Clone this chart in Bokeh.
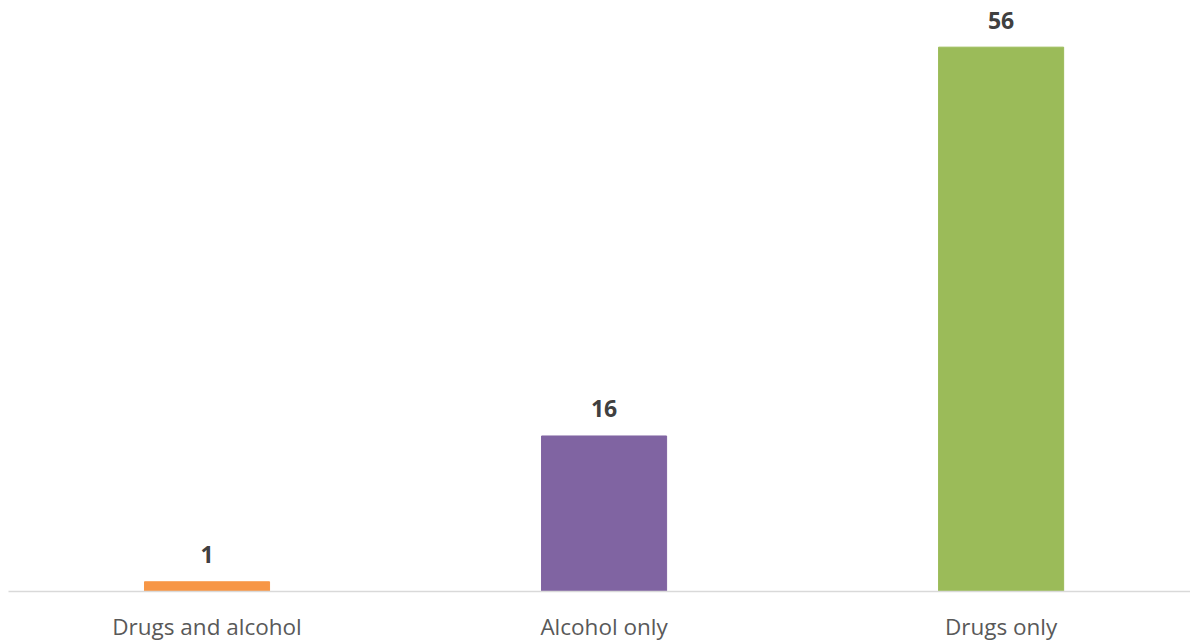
from bokeh.plotting import figure
from bokeh.models import Range1d, FixedTicker, ColumnDataSource
from bokeh.core.properties import value
from bokeh.embed import file_html
from bokeh.resources import INLINE

categories = ["Drugs and alcohol", "Alcohol only", "Drugs only"]
counts = [1, 16, 56]
colors = ["#F79646", "#8064A2", "#9BBB59"]

xs = [i + 0.5 for i in range(len(categories))]
src = ColumnDataSource(dict(x=xs, top=counts, color=colors,
                            label=[str(c) for c in counts]))

p = figure(width=1190, height=644, output_backend="svg", toolbar_location=None,
           x_range=Range1d(0, 2.977), y_range=Range1d(0, 60.8),
           min_border_left=8, min_border_right=0, min_border_top=0,
           min_border_bottom=52)
p.outline_line_color = None
p.background_fill_color = "white"
p.border_fill_color = "white"
p.grid.visible = False
p.yaxis.visible = False

p.vbar(x="x", top="top", bottom=0, width=0.315, color="color", source=src)
p.text(x="x", y="top", text="label", source=src, text_align="center",
       text_baseline="middle", y_offset=-27, text_font=value("Open Sans"),
       text_font_style="bold", text_font_size="23px", text_color="#404040")

ax = p.xaxis[0]
ax.ticker = FixedTicker(ticks=xs)
ax.major_label_overrides = {x: c for x, c in zip(xs, categories)}
ax.axis_line_color = "#D9D9D9"
ax.axis_line_width = 1.5
ax.major_tick_line_color = None
ax.minor_tick_line_color = None
ax.major_label_text_font = "Open Sans"
ax.major_label_text_font_size = "22.5px"
ax.major_label_text_color = "#595959"
ax.major_label_standoff = 13

open("out.html", "w").write(file_html(p, INLINE))
